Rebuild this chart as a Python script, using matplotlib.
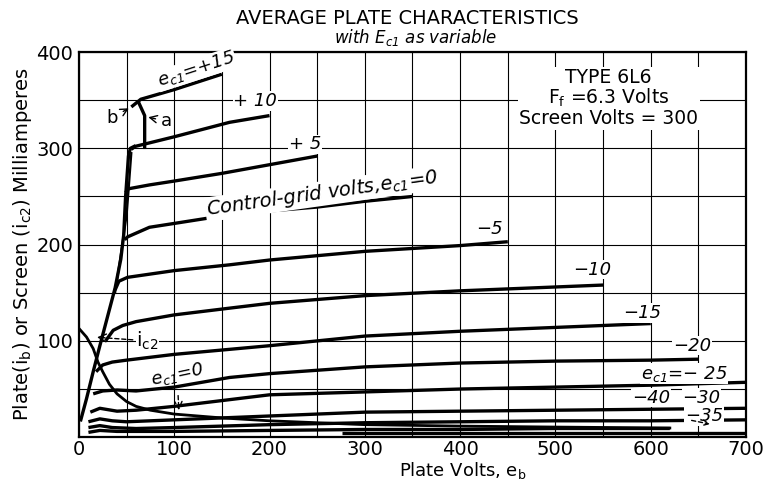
import matplotlib
matplotlib.use("Agg")
import matplotlib.pyplot as plt

# plate current curves (plate volts, milliamperes), one pair per grid voltage
v_p15 = [55, 65, 100, 150]
i_p15 = [343, 351, 361, 377]
v_p10 = [55, 59, 100, 158, 200]
i_p10 = [299, 302, 312, 327, 334]
v_p5 = [49, 52, 74, 100, 150, 200, 250]
i_p5 = [254, 258, 262, 266, 274, 283, 292]
v_0 = [48, 51, 74, 100, 158, 200, 250, 300, 350]
i_0 = [205, 208, 218, 222, 231, 235, 239, 245, 250]
v_m5 = [38, 42, 51, 100, 158, 200, 300, 400, 450]
i_m5 = [153, 162, 166, 173, 179, 184, 193, 199, 203]
v_m10 = [28, 36, 46, 60, 100, 158, 200, 300, 400, 500, 550]
i_m10 = [100, 111, 116, 120, 127, 134, 139, 147, 152, 156, 158]
v_m15 = [18, 25, 35, 50, 100, 200, 300, 400, 500, 600]
i_m15 = [68, 75, 78, 80, 86, 95, 105, 110, 114, 118]
v_m20 = [15, 25, 40, 60, 100, 158, 200, 300, 400, 500, 600, 650]
i_m20 = [45, 48, 49, 48, 52, 62, 66, 73, 77, 79, 80, 81]
v_m25 = [12, 22, 40, 60, 100, 200, 300, 400, 500, 600, 700]
i_m25 = [26, 30, 27, 28, 32, 44, 47, 50, 52, 54, 57]
v_m30 = [10, 22, 35, 50, 100, 200, 300, 400, 500, 600, 700]
i_m30 = [16, 19, 17, 16, 18, 22, 26, 27, 28, 29, 30]
v_m35 = [10, 22, 35, 60, 100, 200, 300, 400, 500, 600, 700]
i_m35 = [10, 12, 10, 9, 10, 13, 15, 16, 17, 17, 18]
v_m40 = [10, 22, 40, 100, 200, 300, 400, 500, 620]
i_m40 = [5, 7, 6, 6, 7, 8, 8, 9, 9]
v_low = [276, 700]
i_low = [4, 4]

# screen current at ec1 = 0
v_ic2 = [0, 8, 15, 20, 25, 32, 40, 50, 60, 75, 100, 150, 200, 300, 400, 500, 620]
i_ic2 = [113, 104, 92, 78, 68, 55, 45, 37, 32, 28, 24, 20, 17, 13, 11.5, 10.5, 9.5]

# knee locus lines
v_locus = [2, 8, 15, 22, 30, 38, 44, 47, 49, 52, 54, 58]
i_locus = [18, 40, 68, 95, 125, 155, 185, 210, 250, 292, 300, 302]
v_locus2 = [38, 44, 50, 52, 55]
i_locus2 = [150, 190, 230, 255, 295]
v_a = [69, 69, 63]
i_a = [301, 334, 347]

plate_curves = [
    (v_p15, i_p15), (v_p10, i_p10), (v_p5, i_p5), (v_0, i_0), (v_m5, i_m5),
    (v_m10, i_m10), (v_m15, i_m15), (v_m20, i_m20), (v_m25, i_m25),
    (v_m30, i_m30), (v_m35, i_m35), (v_m40, i_m40), (v_low, i_low),
]

x_ticks = [0, 100, 200, 300, 400, 500, 600, 700]
y_ticks = [100, 200, 300, 400]

plt.rcParams["font.family"] = ["DejaVu Sans"]
plt.rcParams["mathtext.fontset"] = "dejavusans"

fig = plt.figure(figsize=(7.66, 4.82), dpi=100)
ax = fig.add_axes([0.103, 0.093, 0.871, 0.799])

LW = 2.4
for vx, iy in plate_curves:
    ax.plot(vx, iy, color="black", lw=LW, solid_capstyle="butt")
ax.plot(v_ic2, i_ic2, color="black", lw=2.0)
ax.plot(v_locus, i_locus, color="black", lw=LW)
ax.plot(v_locus2, i_locus2, color="black", lw=1.6)
ax.plot(v_a, i_a, color="black", lw=LW)

ax.set_xlim(0, 700)
ax.set_ylim(0, 400)
ax.set_xticks(range(0, 701, 50))
ax.set_yticks(range(0, 401, 50))
ax.set_xticklabels([str(v) if v in x_ticks else "" for v in range(0, 701, 50)])
ax.set_yticklabels([str(v) if v in y_ticks else "" for v in range(0, 401, 50)])
ax.grid(True, color="black", lw=0.8)
ax.tick_params(axis="y", length=0, labelsize=14, pad=4)
ax.tick_params(axis="x", length=0, labelsize=14, pad=2)
for sp in ax.spines.values():
    sp.set_linewidth(1.6)

ax.set_xlabel(r"Plate Volts, e$_{\mathregular{b}}$", fontsize=13, labelpad=0)
ax.xaxis.set_label_coords(0.575, -0.058)
ax.set_ylabel(r"Plate(i$_{\mathregular{b}}$) or Screen (i$_{\mathregular{c2}}$) Milliamperes",
              fontsize=14, labelpad=2)

fig.text(0.532, 0.962, "AVERAGE PLATE CHARACTERISTICS", ha="center", va="center", fontsize=14)
fig.text(0.542, 0.922, r"with E$_{\mathregular{c1}}$ as variable", ha="center", va="center",
         fontsize=12, style="italic")

box = dict(facecolor="white", edgecolor="none", pad=0.5)
lab = dict(ha="center", va="center", style="italic", fontsize=13, bbox=box)

ax.text(123, 382, r"e$_{\mathregular{c1}}$=+15", rotation=18, **lab)
ax.text(185, 349, "+ 10", **lab)
ax.text(237, 304, "+ 5", **lab)
ax.text(255, 253, r"Control-grid volts,e$_{\mathregular{c1}}$=0", rotation=8,
        ha="center", va="center", style="italic", fontsize=14, bbox=box)
ax.text(431, 216, "\u22125", **lab)
ax.text(539, 174, "\u221210", **lab)
ax.text(591, 129, "\u221215", **lab)
ax.text(643, 95, "\u221220", **lab)
ax.text(635, 66, "e$_{\\mathregular{c1}}$=\u2212 25", **lab)
ax.text(600, 41, "\u221240", **lab)
ax.text(653, 41, "\u221230", **lab)
ax.text(656, 22, "\u221235", **lab)

ax.text(462, 352, "TYPE 6L6\n" + r"F$_{\mathregular{f}}$ =6.3 Volts" + "\nScreen Volts = 300",
        ha="left", va="center", multialignment="center", fontsize=13.5, linespacing=1.0,
        bbox=dict(facecolor="white", edgecolor="none", pad=1))

arrow = dict(arrowstyle="->", color="black", lw=1.0)
dashed = dict(arrowstyle="->", color="black", lw=1.0, linestyle=(0, (3, 2)))
ax.annotate("b", xy=(55, 343), xytext=(35, 332), ha="center", va="center", fontsize=13,
            arrowprops=arrow)
ax.annotate("a", xy=(70, 333), xytext=(92, 328), ha="center", va="center", fontsize=13,
            arrowprops=arrow)
ax.annotate(r"i$_{\mathregular{c2}}$", xy=(16, 104), xytext=(72, 100), ha="center", va="center",
            fontsize=14, bbox=box, arrowprops=dashed)
ax.annotate(r"e$_{\mathregular{c1}}$=0", xy=(105, 25), xytext=(103, 65), ha="center", va="center",
            fontsize=13, style="italic", rotation=12, arrowprops=dashed)
ax.annotate("", xy=(665, 13), xytext=(640, 18), arrowprops=dashed)

fig.savefig("out.png", dpi=100)
